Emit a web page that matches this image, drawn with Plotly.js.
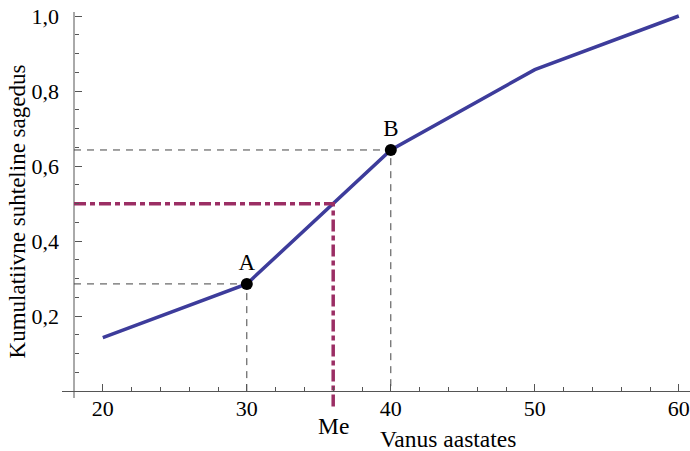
<!DOCTYPE html>
<html>
<head>
<meta charset="utf-8">
<script src="https://cdn.plot.ly/plotly-3.0.1.min.js"></script>
<style>html,body{margin:0;padding:0;background:#fff;}#chart{width:690px;height:451px;}</style>
</head>
<body>
<div id="chart"></div>
<script>
// ---- data ----
const ages = [20, 30, 40, 50, 60];
const cumFreq = [0.143, 0.286, 0.643, 0.857, 1.0];
const pointLabels = ['A', 'B'];
const pointAges = [30, 40];
const pointFreq = [0.286, 0.643];
const medianAge = 36;
const medianFreq = 0.5;
const xTickVals = [20, 30, 40, 50, 60];
const xMinorVals = [22, 24, 26, 28, 32, 34, 36, 38, 42, 44, 46, 48, 52, 54, 56, 58];
const yTickVals = [0.2, 0.4, 0.6, 0.8, 1.0];
const yMinorVals = [0.05, 0.1, 0.15, 0.25, 0.3, 0.35, 0.45, 0.5, 0.55, 0.65, 0.7, 0.75, 0.85, 0.9, 0.95];
const xTitle = 'Vanus aastates';
const yTitle = 'Kumulatiivne suhteline sagedus';
const medianLabel = 'Me';

// ---- layout constants ----
const xRange = [17.1667, 60.778];
const yRange = [-0.05, 1.0107];
const axisX = 18;   // where the y axis crosses
const axisY = 0;    // where the x axis crosses
const font = 'Liberation Serif';
const blue = 'rgb(61,60,155)';
const purple = 'rgb(155,46,100)';
const gray = '#444444';

const traces = [];
// dashed guides for A and B
pointAges.forEach((a, i) => {
  traces.push({
    x: [axisX, a, a], y: [pointFreq[i], pointFreq[i], axisY],
    mode: 'lines', line: {color: gray, width: 1, dash: '7px,6px'},
    hoverinfo: 'skip', showlegend: false
  });
});
// cumulative line
traces.push({
  x: ages, y: cumFreq, mode: 'lines',
  line: {color: blue, width: 3.5}, hoverinfo: 'skip', showlegend: false
});
// median guide
traces.push({
  x: [axisX, medianAge, medianAge], y: [medianFreq, medianFreq, yRange[0]],
  mode: 'lines', line: {color: purple, width: 3.5, dash: '12px,4px,5px,4px'},
  hoverinfo: 'skip', showlegend: false
});
// points A, B
traces.push({
  x: pointAges, y: pointFreq, mode: 'markers+text', text: pointLabels,
  textposition: 'top center', textfont: {family: font, size: 23, color: '#000'},
  marker: {color: '#000', size: 12}, cliponaxis: false,
  hoverinfo: 'skip', showlegend: false
});

const xPos = (axisY - yRange[0]) / (yRange[1] - yRange[0]);
const yPos = (axisX - xRange[0]) / (xRange[1] - xRange[0]);

const layout = {
  width: 690, height: 451,
  margin: {l: 62, r: 0, t: 12, b: 41},
  paper_bgcolor: '#fff', plot_bgcolor: '#fff',
  separators: ',.',
  font: {family: font, size: 22, color: '#000'},
  showlegend: false,
  hovermode: false,
  xaxis: {
    range: xRange, anchor: 'free', position: xPos,
    showgrid: false, zeroline: false,
    showline: true, linecolor: '#555', linewidth: 1,
    tickmode: 'array', tickvals: xTickVals,
    ticks: 'inside', ticklen: 7, tickwidth: 1, tickcolor: '#555',
    minor: {tickmode: 'array', tickvals: xMinorVals, ticks: 'inside', ticklen: 4, tickwidth: 1, tickcolor: '#555', showgrid: false},
    tickfont: {family: font, size: 22, color: '#000'},
    ticklabelstandoff: -3
  },
  yaxis: {
    range: yRange, anchor: 'free', position: yPos,
    showgrid: false, zeroline: false, showline: false,
    tickmode: 'array', tickvals: yTickVals, tickformat: '.1f',
    ticks: 'inside', ticklen: 7, tickwidth: 1, tickcolor: '#555',
    minor: {tickmode: 'array', tickvals: yMinorVals, ticks: 'inside', ticklen: 4, tickwidth: 1, tickcolor: '#555', showgrid: false},
    tickfont: {family: font, size: 22, color: '#000'},
    ticklabelstandoff: 15
  },
  shapes: [{
    type: 'line', xref: 'x', yref: 'y',
    x0: axisX, x1: axisX, y0: -0.018, y1: yRange[1],
    line: {color: '#555', width: 1}, layer: 'below'
  }],
  annotations: [
    {text: yTitle, xref: 'paper', yref: 'paper', x: -0.071, y: 0.50,
     textangle: -90, showarrow: false, xanchor: 'center', yanchor: 'middle',
     font: {family: font, size: 23, color: '#000'}},
    {text: xTitle, xref: 'paper', yref: 'paper', x: 0.6146, y: -0.074,
     showarrow: false, xanchor: 'center', yanchor: 'middle',
     font: {family: font, size: 23.5, color: '#000'}},
    {text: medianLabel, xref: 'x', yref: 'paper', x: medianAge, y: -0.040,
     showarrow: false, xanchor: 'center', yanchor: 'middle',
     font: {family: font, size: 23.5, color: '#000'}}
  ]
};

Plotly.newPlot('chart', traces, layout, {displayModeBar: false, staticPlot: true});
</script>
</body>
</html>
